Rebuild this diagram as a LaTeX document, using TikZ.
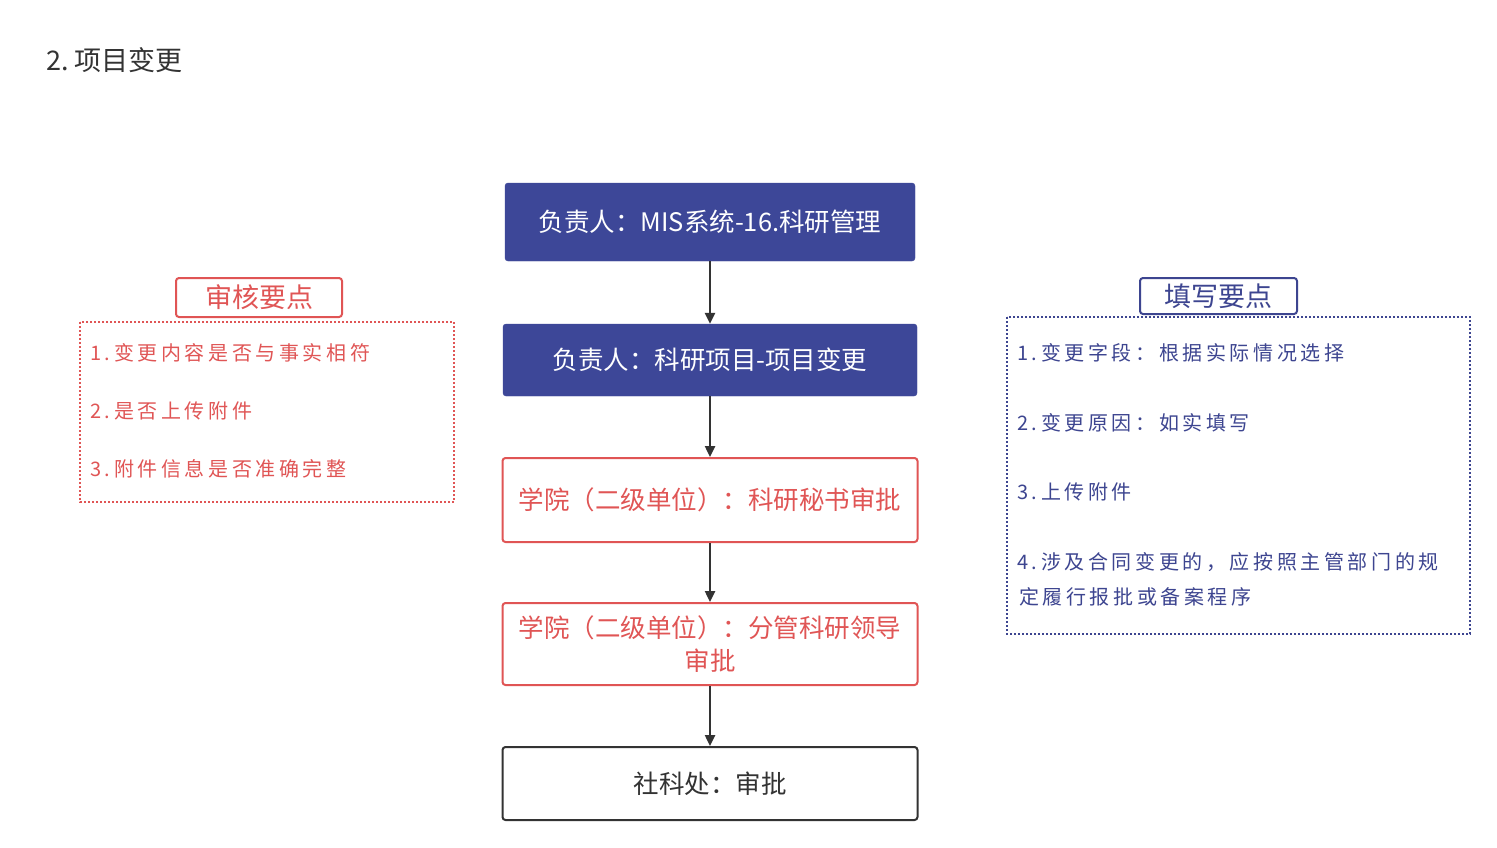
\documentclass[tikz,border=0pt]{standalone}
\usepackage{fontspec}
\setmainfont{Noto Sans CJK SC}
\usetikzlibrary{arrows.meta}
\definecolor{bluefill}{HTML}{3D4798}
\definecolor{redc}{HTML}{E05555}
\definecolor{bluetxt}{HTML}{3D4590}
\definecolor{darkc}{HTML}{333333}
\tikzset{
  flowbox/.style={rectangle, rounded corners=3pt, minimum width=415pt, inner sep=2pt, align=center, font=\fontsize{25.5}{33}\selectfont},
  bluebox/.style={flowbox, fill=bluefill, draw=bluefill, text=white},
  redbox/.style={flowbox, draw=redc, line width=2pt, text=redc},
  blackbox/.style={flowbox, draw=darkc, line width=2pt, text=darkc},
  flowarrow/.style={draw=darkc, line width=2.4pt, -{Triangle[length=11pt,width=10pt]}},
  notetitle/.style={rectangle, rounded corners=3pt, line width=2pt, inner sep=0pt, font=\fontsize{27}{30}\selectfont},
  notetext/.style={anchor=west, inner sep=0pt, font=\fontsize{20}{24}\selectfont\addfontfeature{LetterSpace=18}},
  dotbox/.style={line width=1.6pt, dash pattern=on 1.6pt off 2.4pt}
}
\begin{document}
\begin{tikzpicture}[x=1pt,y=-1pt]
\useasboundingbox (0,0) rectangle (1497,847);
\fill[white] (0,0) rectangle (1497,847);
\node[anchor=west, inner sep=0pt, text=darkc, font=\fontsize{27}{30}\selectfont] (title) at (46,60) {2.~项目变更};

% flow
\node[bluebox, minimum height=78pt, minimum width=410pt] (b1) at (710,222) {负责人：MIS系统-16.科研管理};
\node[bluebox, minimum height=72pt, minimum width=414pt] (b2) at (710,360) {负责人：科研项目-项目变更};
\node[redbox, minimum height=84pt] (b3) at (710,500) {学院（二级单位）：科研秘书审批};
\node[redbox, minimum height=82pt, text width=400pt] (b4) at (710,644) {学院（二级单位）：分管科研领导\\审批};
\node[blackbox, minimum height=73pt] (b5) at (710,783.5) {社科处：审批};
\draw[flowarrow] (b1) -- (b2);
\draw[flowarrow] (b2) -- (b3);
\draw[flowarrow] (b3) -- (b4);
\draw[flowarrow] (b4) -- (b5);

% left notes
\node[notetitle, draw=redc, text=redc, minimum width=166pt, minimum height=39pt] (lt) at (259,297.5) {审核要点};
\draw[dotbox, draw=redc] (80,322) rectangle (454,502);
\node[notetext, text=redc] (l1) at (90,353) {1.变更内容是否与事实相符};
\node[notetext, text=redc] (l2) at (90,411) {2.是否上传附件};
\node[notetext, text=redc] (l3) at (90,469) {3.附件信息是否准确完整};

% right notes
\node[notetitle, draw=bluetxt, text=bluetxt, minimum width=157pt, minimum height=36pt] (rt) at (1218.5,296) {填写要点};
\draw[dotbox, draw=bluetxt] (1007,317) rectangle (1470,634);
\node[notetext, text=bluetxt] (r1) at (1017,353) {1.变更字段：根据实际情况选择};
\node[notetext, text=bluetxt] (r2) at (1017,423) {2.变更原因：如实填写};
\node[notetext, text=bluetxt] (r3) at (1017,492) {3.上传附件};
\node[notetext, text=bluetxt] (r4) at (1017,562) {4.涉及合同变更的，应按照主管部门的规};
\node[notetext, text=bluetxt] (r5) at (1019,597) {定履行报批或备案程序};
\end{tikzpicture}
\end{document}
